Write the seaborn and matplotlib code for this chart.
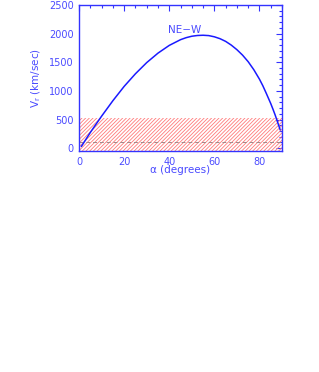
import numpy as np
import pandas as pd
import matplotlib
matplotlib.use("Agg")
import matplotlib.pyplot as plt
from matplotlib.ticker import MultipleLocator
import seaborn as sns

# Data
alpha = [1, 5, 10, 15, 20, 25, 30, 35, 40, 45, 47.5, 50, 52.5, 55, 57.5, 60, 62.5, 65,
         67.5, 70, 72.5, 75, 77.5, 80, 81.5, 83, 85, 86, 87, 88, 88.6, 89.2]
vr = [30, 276, 560, 830, 1080, 1300, 1495, 1660, 1795, 1895, 1930, 1955, 1968, 1972,
      1966, 1945, 1912, 1865, 1800, 1720, 1625, 1510, 1370, 1205, 1090, 960, 780, 680,
      575, 460, 390, 320]
band_low, band_high = -50, 520
dashed_level = 100
curve_label = "NE\u2212W"
x_ticks = [0, 20, 40, 60, 80]
y_ticks = [0, 500, 1000, 1500, 2000, 2500]

sns.set_style("white")
plt.rcParams['font.family'] = ['DejaVu Sans']
plt.rcParams['hatch.linewidth'] = 0.6

TXT = '#4a4aff'
fig = plt.figure(figsize=(3.19, 3.72), dpi=100)
ax = fig.add_axes([0.248, 0.594, 0.636, 0.3925])

df = pd.DataFrame({'alpha': alpha, 'vr': vr})

ax.axhspan(band_low, band_high, facecolor='none', edgecolor='#ff7a7a',
           hatch='/////////', linewidth=0, zorder=1)
ax.axhline(dashed_level, color='#a08888', lw=0.7, ls=(0, (4, 3)), zorder=2)
sns.lineplot(data=df, x='alpha', y='vr', ax=ax, color='#1a1aff', lw=1.1, zorder=3)

ax.text(39.5, 2070, curve_label, color=TXT, fontsize=7.5, va='center', ha='left')

ax.set_xlim(0, 90)
ax.set_ylim(-50, 2500)
ax.set_xticks(x_ticks)
ax.set_yticks(y_ticks)
ax.xaxis.set_minor_locator(MultipleLocator(5))
ax.yaxis.set_minor_locator(MultipleLocator(100))
ax.tick_params(which='both', direction='in', top=True, right=True, colors='#3333ff',
               labelcolor=TXT, labelsize=7, width=0.8)
ax.tick_params(which='major', length=4, pad=4)
ax.tick_params(which='minor', length=2)
for s in ax.spines.values():
    s.set_color('#3333ff')
    s.set_linewidth(1.0)

ax.set_xlabel('\u03b1 (degrees)', color=TXT, fontsize=7.5, labelpad=-1)
ax.set_ylabel('V$_\\mathregular{r}$ (km/sec)', color=TXT, fontsize=7.5, labelpad=4)

fig.savefig('out.png', dpi=100)
